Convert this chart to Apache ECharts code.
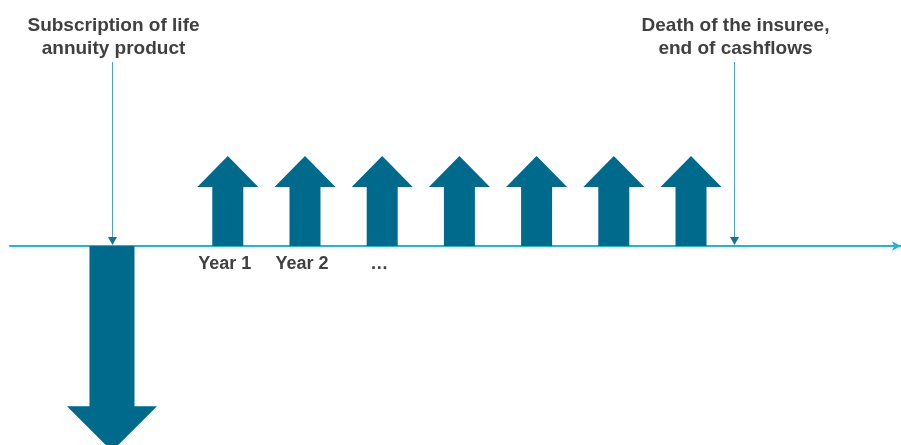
<!DOCTYPE html>
<html><head><meta charset="utf-8">
<script src="https://cdn.jsdelivr.net/npm/echarts@6/dist/echarts.min.js"></script>
<style>html,body{margin:0;padding:0;background:#fff}#c{width:901px;height:445px}</style>
</head><body><div id="c"></div><script>
// ---- data (time in periods, cashflow in relative units) ----
const premiumTimes = [0];
const premiumValues = [-2.28];
const paymentTimes = [1.5, 2.5, 3.5, 4.5, 5.5, 6.5, 7.5];
const paymentValues = [1, 1, 1, 1, 1, 1, 1];
const yearLabels = ['Year 1', 'Year 2', '…'];
const yearLabelTimes = [1.5, 2.5, 3.5];
const eventTimes = [0, 8.06];
const eventTops = [2.044, 2.044];
const eventLabels = ['Subscription of life\nannuity product', 'Death of the insuree,\nend of cashflows'];

const FONT = "'Liberation Sans', Arial, sans-serif";
const ARROW_COLOR = '#006a8c';
const TEXT_COLOR = '#404040';

function arrowItem(sw, hw, hh) {
  return function (params, api) {
    const x = api.value(0), v = api.value(1);
    const p0 = api.coord([x, 0]);
    const p1 = api.coord([x, v]);
    const cx = p0[0], base = p0[1], tip = p1[1];
    const dir = tip < base ? -1 : 1;
    const hb = tip - dir * hh;
    return {
      type: 'polygon',
      shape: { points: [[cx - sw, base], [cx - sw, hb], [cx - hw, hb], [cx, tip], [cx + hw, hb], [cx + sw, hb], [cx + sw, base]] },
      style: { fill: ARROW_COLOR }
    };
  };
}

const chart = echarts.init(document.getElementById('c'), null, { renderer: 'canvas' });
chart.setOption({
  animation: false,
  backgroundColor: '#fff',
  grid: { left: 10, right: 0, top: 0, bottom: 0 },
  xAxis: {
    type: 'value', min: -1.321, max: 10.22,
    axisLine: { show: true, onZero: true, symbol: ['none', 'arrow'], symbolSize: [7, 9], lineStyle: { color: '#22b4dc', width: 2 } },
    axisTick: { show: false }, axisLabel: { show: false }, splitLine: { show: false }
  },
  yAxis: {
    type: 'value', min: -2.211, max: 2.733, show: true,
    axisLine: { show: false }, axisTick: { show: false }, axisLabel: { show: false }, splitLine: { show: false }
  },
  series: [
    {
      type: 'custom', name: 'Premium', z: 3,
      data: premiumTimes.map((t, i) => [t, premiumValues[i]]),
      renderItem: arrowItem(22.5, 45, 45), clip: false
    },
    {
      type: 'custom', name: 'Annuity payments', z: 3,
      data: paymentTimes.map((t, i) => [t, paymentValues[i]]),
      renderItem: arrowItem(15.5, 30.5, 31)
    },
    {
      type: 'custom', name: 'Years', z: 4,
      data: yearLabelTimes.map((t, i) => [t, 0, i]),
      renderItem: function (params, api) {
        const p = api.coord([api.value(0), 0]);
        return {
          type: 'text',
          style: { x: p[0] - 3, y: p[1] + 18, text: yearLabels[api.value(2)], align: 'center', verticalAlign: 'middle',
                   font: 'bold 18px ' + FONT, fill: TEXT_COLOR }
        };
      }
    },
    {
      type: 'custom', name: 'Events', z: 5,
      data: eventTimes.map((t, i) => [t, eventTops[i], i]),
      renderItem: function (params, api) {
        const x = api.value(0);
        const top = api.coord([x, api.value(1)]);
        const bot = api.coord([x, 0]);
        const cx = Math.round(top[0]) + 0.5;
        return {
          type: 'group',
          children: [
            { type: 'line', shape: { x1: cx, y1: top[1], x2: cx, y2: bot[1] - 8 }, style: { stroke: '#4fa3be', lineWidth: 1 } },
            { type: 'polygon', shape: { points: [[cx - 4.5, bot[1] - 9], [cx + 4.5, bot[1] - 9], [cx, bot[1] - 1]] }, style: { fill: '#1c7090' } },
            { type: 'text', style: { x: cx + 1, y: top[1] - 2, text: eventLabels[api.value(2)], align: 'center', verticalAlign: 'bottom',
              font: 'bold 19px ' + FONT, lineHeight: 23, fill: TEXT_COLOR } }
          ]
        };
      }
    }
  ]
});
</script></body></html>
